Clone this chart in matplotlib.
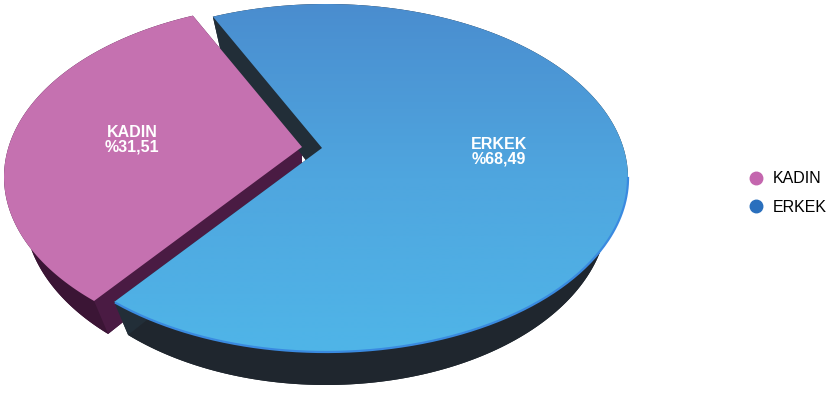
import numpy as np
import matplotlib.pyplot as plt
from matplotlib.patches import Polygon
from matplotlib.lines import Line2D
from matplotlib.colors import LinearSegmentedColormap

labels = ['KADIN', 'ERKEK']
shares = [31.51, 68.49]
top_colors = ['#c571b0', None]
side_colors = ['#3b1535', '#1f262e']
face_colors = ['#4a1b43', '#222e38']
legend_colors = ['#c466ae', '#2a6fbd']

plt.rcParams['font.family'] = ['Liberation Sans', 'DejaVu Sans']

W, H = 833, 393
fig = plt.figure(figsize=(W / 100, H / 100), dpi=100)
ax = fig.add_axes([0, 0, 1, 1])
ax.set_xlim(0, W)
ax.set_ylim(H, 0)
ax.axis('off')

# ellipse of the top surface, apex sits a bit above its centre (perspective)
cx, cy, rx, ry = 326, 178, 302, 174
apex = np.array([322, 148])
depth = 33
rxb, ryb = rx - 20, ry
start = 112.0  # pie starts at upper left, goes counter-clockwise

def top_pt(t, off):
    t = np.radians(t)
    return np.column_stack([cx + rx * np.cos(t), cy - ry * np.sin(t)]) + off

def bot_pt(t, off):
    t = np.radians(t)
    return np.column_stack([cx + rxb * np.cos(t), cy + depth - ryb * np.sin(t)]) + off

angles = []
a0 = start
for s in shares:
    a1 = a0 + 360 * s / 100
    angles.append((a0, a1))
    a0 = a1

offsets = [np.array([-20, -1]), np.array([0, 0])]

# side walls and radial faces first
for i, (a0, a1) in enumerate(angles):
    off = offsets[i]
    t = np.linspace(a0, a1, 200)
    ap_t = apex + off
    ap_b = apex + off + np.array([0, depth])
    bot = np.vstack([ap_b, bot_pt(t, off)])
    ax.add_patch(Polygon(bot, closed=True, fc=side_colors[i], ec='none', zorder=1))
    wall = np.vstack([top_pt(t, off), bot_pt(t[::-1], off)])
    ax.add_patch(Polygon(wall, closed=True, fc=side_colors[i], ec='none', zorder=1))
    for a in (a0, a1):
        q = np.vstack([ap_t, top_pt([a], off), bot_pt([a], off), ap_b])
        ax.add_patch(Polygon(q, closed=True, fc=face_colors[i], ec='none', zorder=2))

# top surfaces
for i, (a0, a1) in enumerate(angles):
    off = offsets[i]
    t = np.linspace(a0, a1, 300)
    pts = np.vstack([apex + off, top_pt(t, off)])
    if top_colors[i] is not None:
        ax.add_patch(Polygon(pts, closed=True, fc=top_colors[i], ec='none', zorder=3))
    else:
        poly = Polygon(pts, closed=True, fc='none', ec='none', zorder=3)
        ax.add_patch(poly)
        grad = np.linspace(0, 1, 256)[:, None]
        cmap = LinearSegmentedColormap.from_list('b', ['#4a8dcf', '#4fa6df', '#4fb5e8'])
        im = ax.imshow(grad, cmap=cmap, extent=[0, W, cy + ry, cy - ry],
                       aspect='auto', zorder=3, interpolation='bilinear')
        im.set_clip_path(poly)
        # brighter rim along the front edge
        tf = np.linspace(a0 + 0.5, 360, 200)
        rim = top_pt(tf, off)
        ax.plot(rim[:, 0], rim[:, 1], color='#3a8ae0', lw=1.6, zorder=4)
    ax.set_xlim(0, W)
    ax.set_ylim(H, 0)

# slice labels
ax.text(132, 140, 'KADIN\n%31,51', color='white', fontsize=11.5, fontweight='bold',
        ha='center', va='center', linespacing=1.0, zorder=5)
ax.text(499, 152, 'ERKEK\n%68,49', color='white', fontsize=11.5, fontweight='bold',
        ha='center', va='center', linespacing=1.0, zorder=5)

handles = [Line2D([], [], marker='o', ls='none', color=c, markersize=9) for c in legend_colors]
ax.legend(handles, labels, loc='center left', bbox_to_anchor=(738 / W, 1 - 193 / H),
          frameon=False, fontsize=11.5, handletextpad=0.45, labelspacing=0.85,
          borderpad=0, handlelength=1.2)

fig.savefig('out.png', dpi=100)
